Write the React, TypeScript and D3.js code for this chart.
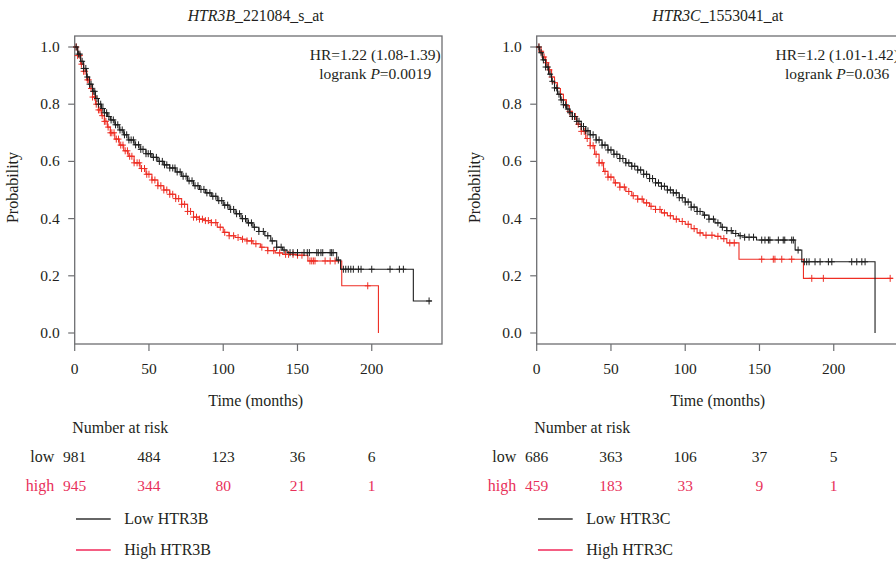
import React from "react";
import * as d3 from "d3";

// ---------- DATA ----------
const riskTimes = [0, 50, 100, 150, 200];
const yTicks = [0, 0.2, 0.4, 0.6, 0.8, 1.0];

// Panel 1: HTR3B_221084_s_at
const lowB: [number, number][] = [[0,1],[2,0.975],[4,0.95],[6,0.925],[8,0.895],[10,0.87],[12,0.845],[14,0.82],[16,0.8],[18,0.785],[20,0.77],[22,0.757],[24,0.745],[27,0.728],[30,0.71],[33,0.693],[36,0.675],[40,0.658],[44,0.642],[48,0.627],[52,0.614],[56,0.6],[60,0.588],[64,0.577],[68,0.563],[72,0.548],[76,0.532],[80,0.515],[84,0.502],[88,0.49],[92,0.478],[96,0.463],[100,0.447],[104,0.432],[108,0.417],[112,0.4],[116,0.385],[120,0.37],[124,0.355],[128,0.34],[132,0.322],[136,0.3],[140,0.29],[143,0.281],[176.4,0.255],[179,0.223],[228,0.112],[240.4,0.112]];
const highB: [number, number][] = [[0,1],[2,0.97],[4,0.94],[6,0.915],[8,0.885],[10,0.855],[12,0.825],[14,0.8],[16,0.78],[18,0.76],[20,0.74],[22,0.72],[24,0.7],[27,0.678],[30,0.657],[33,0.637],[36,0.618],[40,0.595],[44,0.575],[48,0.555],[52,0.535],[56,0.515],[60,0.5],[64,0.485],[68,0.47],[72,0.45],[76,0.425],[80,0.405],[84,0.398],[88,0.393],[92,0.386],[96,0.37],[100,0.352],[104,0.34],[108,0.334],[112,0.328],[116,0.322],[120,0.312],[125,0.3],[130,0.288],[135,0.28],[140,0.275],[150,0.272],[157,0.252],[179.8,0.165],[204.5,0]];
const censorLowB = [1,2.5,3.5,5,6,7.5,8.5,10,11,12.5,13.5,15,16,17.5,19,20,21.5,23,24.5,26,27.5,29,30.5,32,33.5,35,36.5,38,39.5,41,43,44.5,46,48,49.5,51,53,55,57,59,60.5,62,64,66,67.5,69,71,73,75,77,79,81,83,85,87,89,91,93,95,97,99,101,103,105,107,109,111,113,115,117,119,121,124,127,130,133,136,139,141,145,147,150,154.4,156.6,158,163,164,165.8,167,172,173,174,177.5,180.9,182.5,184.2,185.9,187.6,191,192.8,200,212.3,218.6,221.3,238.6];
const censorHighB = [1,2,3.5,4.5,6,7,8.5,9.5,11,12,13.5,14.5,16,17,18.5,20,21,22.5,24,25,26.5,28,29.5,31,32.5,34,35.5,37,38.5,40,42,43.5,45,47,48.5,50,52,54,56,58,60,62,64,66,68,70,72,74,76,78,80,82,84,86,88,90,92,95,98,101,104,107,110,113,116,119,122,126,130,134,138,142,144,147,150,153,158.4,159.6,160.7,161.8,168.6,172,175.3,197.3];

// Panel 2: HTR3C_1553041_at
const lowC: [number, number][] = [[0,1],[2,0.98],[4,0.955],[6,0.93],[8,0.905],[10,0.88],[12,0.857],[14,0.835],[16,0.815],[18,0.798],[20,0.783],[22,0.77],[24,0.757],[27,0.74],[30,0.722],[33,0.707],[36,0.693],[40,0.675],[44,0.657],[48,0.64],[52,0.625],[56,0.61],[60,0.595],[64,0.583],[68,0.57],[72,0.555],[76,0.54],[80,0.525],[84,0.513],[88,0.5],[92,0.49],[96,0.473],[100,0.458],[104,0.44],[108,0.425],[112,0.412],[116,0.398],[120,0.385],[124,0.37],[128,0.358],[132,0.348],[136,0.34],[140,0.335],[148,0.325],[174,0.29],[178.5,0.249],[227.8,0]];
const highC: [number, number][] = [[0,1],[2,0.985],[4,0.965],[6,0.945],[8,0.92],[10,0.895],[12,0.875],[14,0.855],[16,0.835],[18,0.815],[20,0.795],[22,0.775],[24,0.757],[27,0.73],[30,0.705],[33,0.68],[36,0.655],[39,0.625],[42,0.595],[45,0.565],[48,0.545],[52,0.525],[56,0.51],[60,0.495],[64,0.48],[68,0.468],[72,0.455],[76,0.443],[80,0.432],[84,0.42],[88,0.41],[92,0.398],[96,0.39],[100,0.38],[104,0.365],[108,0.35],[112,0.342],[120,0.338],[124,0.33],[128,0.315],[136.2,0.258],[179.6,0.191],[240,0.191]];
const censorLowC = [1.5,3,4.5,6,7.5,9,10.5,12,13.5,15,16.5,18,19.5,21,22.5,24,25.5,27,28.5,30,31.5,33,34.5,36,38,40,42,44,46,48,50,52,54,56,58,60,62,64,66,68,70,72,74,76,78,80,82,84,86,88,90,92,94,96,98,100,102,104,106,108,110,113,116,119,122,125,128,131,134,137,140,143,146,151.5,153.7,156,157,162.7,166,167,171.7,172.8,176,180.2,181.8,183.4,187.4,190.8,196.4,198.7,212.1,215.5,218.9,221.1];
const censorHighC = [1.5,3,5,6.5,8.5,10,12,14,16,18,20,22,24,26,28,30,32,34,36,38,40,42,44,46,48,50,53,56,59,62,65,68,71,74,77,80,83,86,90,94,98,102,106,110,114,118,122,126,130,133,151.5,159.3,160.4,165,171.7,185.2,193,238];

const riskLowB = [981, 484, 123, 36, 6];
const riskHighB = [945, 344, 80, 21, 1];
const riskLowC = [686, 363, 106, 37, 5];
const riskHighC = [459, 183, 33, 9, 1];

// ---------- STYLE ----------
const FONT = "'Liberation Serif', 'Times New Roman', serif";
const TXT = "#231f20";
const AXIS = "#6d6e71";
const BLACK = "#1e1e1e";
const RED = "#ee2e24";
const RISKRED = "#e8305a";
const FS_NUM = 15.5;
const FS_WORD = 16;

type Curve = [number, number][];

interface PanelProps {
  x0: number;
  geneItalic: string;
  probe: string;
  hr: string;
  p: string;
  low: Curve;
  high: Curve;
  cLow: number[];
  cHigh: number[];
  rLow: number[];
  rHigh: number[];
  gene: string;
}

function stepValue(curve: Curve, t: number): number {
  const bis = d3.bisector((d: [number, number]) => d[0]).right;
  const i = bis(curve, t) - 1;
  return curve[Math.max(0, i)][1];
}

function Panel(props: PanelProps) {
  const { x0 } = props;
  const plotW = 367.3;
  const top = 36;
  const bottom = 344;
  const x = d3.scaleLinear().domain([0, 247.3]).range([x0, x0 + plotW]);
  const y = d3.scaleLinear().domain([0, 1]).range([333, 47]);
  const line = d3
    .line<[number, number]>()
    .x((d) => x(d[0]))
    .y((d) => y(d[1]))
    .curve(d3.curveStepAfter);

  const censorPath = (curve: Curve, times: number[]) =>
    times
      .map((t) => {
        const cx = x(t);
        const cy = y(stepValue(curve, t));
        return `M${cx - 3},${cy}H${cx + 3}M${cx},${cy - 3.5}V${cy + 3.5}`;
      })
      .join("");

  const cx = x0 + 181;
  const hrX = x0 + 300.5;

  return (
    <g>
      <text x={cx} y={21} textAnchor="middle" fontSize={15.8} fill={TXT} fontFamily={FONT}>
        <tspan fontStyle="italic">{props.geneItalic}</tspan>
        <tspan>{props.probe}</tspan>
      </text>
      <rect x={x0} y={top} width={plotW} height={bottom - top} fill="none" stroke={AXIS} strokeWidth={1.3} />
      {yTicks.map((v) => (
        <g key={"y" + v}>
          <line x1={x0 - 6.5} x2={x0} y1={y(v)} y2={y(v)} stroke={AXIS} strokeWidth={1.2} />
          <text x={x0 - 15} y={y(v) + 5} textAnchor="end" fontSize={FS_NUM} fill={TXT} fontFamily={FONT}>
            {d3.format(".1f")(v)}
          </text>
        </g>
      ))}
      {riskTimes.map((t) => (
        <g key={"x" + t}>
          <line x1={x(t)} x2={x(t)} y1={bottom} y2={bottom + 7} stroke={AXIS} strokeWidth={1.2} />
          <text x={x(t)} y={374} textAnchor="middle" fontSize={FS_NUM} fill={TXT} fontFamily={FONT}>
            {t}
          </text>
        </g>
      ))}
      <text
        transform={`translate(${x0 - 57},187.5) rotate(-90)`}
        textAnchor="middle"
        fontSize={FS_WORD}
        fill={TXT}
        fontFamily={FONT}
      >
        Probability
      </text>
      <text x={x0 + 181} y={406} textAnchor="middle" fontSize={FS_WORD} fill={TXT} fontFamily={FONT}>
        Time (months)
      </text>
      <text x={hrX} y={60} textAnchor="middle" fontSize={FS_NUM} fill={TXT} fontFamily={FONT}>
        {props.hr}
      </text>
      <text x={hrX} y={79} textAnchor="middle" fontSize={FS_NUM} fill={TXT} fontFamily={FONT}>
        logrank <tspan fontStyle="italic">P</tspan>={props.p}
      </text>
      <path d={line(props.high) || ""} fill="none" stroke={RED} strokeWidth={1.1} />
      <path d={censorPath(props.high, props.cHigh)} fill="none" stroke={RED} strokeWidth={1} />
      <path d={line(props.low) || ""} fill="none" stroke={BLACK} strokeWidth={1.1} />
      <path d={censorPath(props.low, props.cLow)} fill="none" stroke={BLACK} strokeWidth={1} />
      <text x={x0 - 2.5} y={433} fontSize={FS_WORD} fill={TXT} fontFamily={FONT}>
        Number at risk
      </text>
      <text x={x0 - 20.5} y={461.7} textAnchor="end" fontSize={FS_WORD} fill={TXT} fontFamily={FONT}>
        low
      </text>
      <text x={x0 - 20.5} y={490.7} textAnchor="end" fontSize={FS_WORD} fill={RISKRED} fontFamily={FONT}>
        high
      </text>
      {riskTimes.map((t, i) => (
        <g key={"r" + t}>
          <text x={x(t)} y={461.7} textAnchor="middle" fontSize={FS_NUM} fill={TXT} fontFamily={FONT}>
            {props.rLow[i]}
          </text>
          <text x={x(t)} y={490.7} textAnchor="middle" fontSize={FS_NUM} fill={RISKRED} fontFamily={FONT}>
            {props.rHigh[i]}
          </text>
        </g>
      ))}
      <line x1={x0 + 1.3} x2={x0 + 36} y1={519} y2={519} stroke="#333" strokeWidth={1.3} />
      <text x={x0 + 49.6} y={523.5} fontSize={FS_WORD} fill={TXT} fontFamily={FONT}>
        Low {props.gene}
      </text>
      <line x1={x0 + 1.3} x2={x0 + 36} y1={550} y2={550} stroke="#f0285a" strokeWidth={1.3} />
      <text x={x0 + 49.6} y={555} fontSize={FS_WORD} fill={TXT} fontFamily={FONT}>
        High {props.gene}
      </text>
    </g>
  );
}

export default function App() {
  return (
    <svg
      width={896}
      height={562}
      style={{ position: "absolute", left: 0, top: 0, background: "#fff" }}
    >
      <rect width={896} height={562} fill="#fff" />
      <Panel
        x0={74.7}
        geneItalic="HTR3B"
        probe="_221084_s_at"
        hr="HR=1.22 (1.08-1.39)"
        p="0.0019"
        low={lowB}
        high={highB}
        cLow={censorLowB}
        cHigh={censorHighB}
        rLow={riskLowB}
        rHigh={riskHighB}
        gene="HTR3B"
      />
      <Panel
        x0={536.7}
        geneItalic="HTR3C"
        probe="_1553041_at"
        hr="HR=1.2 (1.01-1.42)"
        p="0.036"
        low={lowC}
        high={highC}
        cLow={censorLowC}
        cHigh={censorHighC}
        rLow={riskLowC}
        rHigh={riskHighC}
        gene="HTR3C"
      />
    </svg>
  );
}
